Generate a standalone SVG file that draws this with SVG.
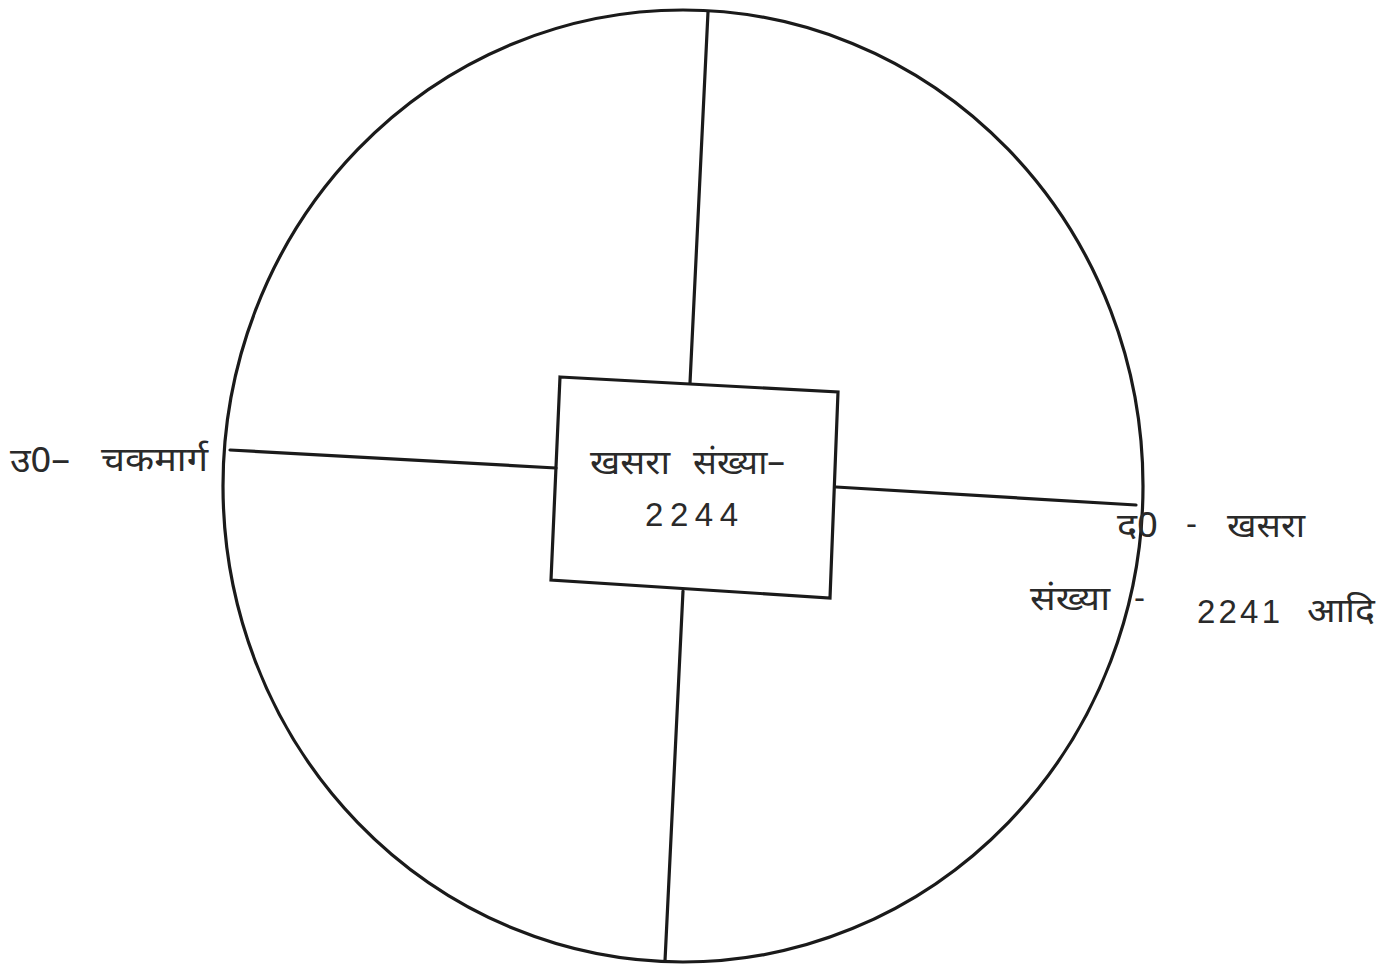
<svg xmlns="http://www.w3.org/2000/svg" width="1392" height="968" viewBox="0 0 1392 968">
<style>
.ln{stroke:#1a1a1a;stroke-width:3.2;fill:none;stroke-linecap:round}
.t{font-family:"Noto Sans Devanagari","Noto Sans","DejaVu Sans",sans-serif;fill:#2a2a2a;font-size:34px}
.n{font-family:"Liberation Sans","Noto Sans",sans-serif;fill:#2a2a2a;font-size:33px}
</style>
<rect width="1392" height="968" fill="#ffffff"/>
<g id="boundary">
<ellipse cx="683" cy="486" rx="460" ry="476" class="ln"/>
</g>
<g id="connectors">
<line x1="708" y1="12" x2="690" y2="383" class="ln"/>
<line x1="683" y1="591" x2="665" y2="961" class="ln"/>
<line x1="230" y1="450" x2="556" y2="468" class="ln"/>
<line x1="836" y1="487" x2="1136" y2="505" class="ln"/>
</g>
<g id="plot">
<polygon points="560,377 838,392 830,598 551,580" class="ln" fill="#fff"/>
<text class="t" x="590" y="474" textLength="80" lengthAdjust="spacingAndGlyphs">खसरा</text>
<text class="t" x="693" y="474" textLength="92" lengthAdjust="spacingAndGlyphs">संख्या–</text>
<text class="n" x="645" y="526" textLength="93">2244</text>
</g>
<g id="west">
<text class="t" x="10" y="472" textLength="60" lengthAdjust="spacingAndGlyphs">उ0–</text>
<text class="t" x="101" y="471" textLength="107" lengthAdjust="spacingAndGlyphs">चकमार्ग</text>
</g>
<g id="east">
<text class="t" x="1117" y="537" textLength="41" lengthAdjust="spacingAndGlyphs">द0</text>
<text class="n" x="1186" y="535">-</text>
<text class="t" x="1227" y="537" textLength="78" lengthAdjust="spacingAndGlyphs">खसरा</text>
<text class="t" x="1030" y="610" textLength="80" lengthAdjust="spacingAndGlyphs">संख्या</text>
<text class="n" x="1134" y="609">-</text>
<text class="n" x="1197" y="623" textLength="83">2241</text>
<text class="t" x="1307" y="622" textLength="68" lengthAdjust="spacingAndGlyphs">आदि</text>
</g>
</svg>
